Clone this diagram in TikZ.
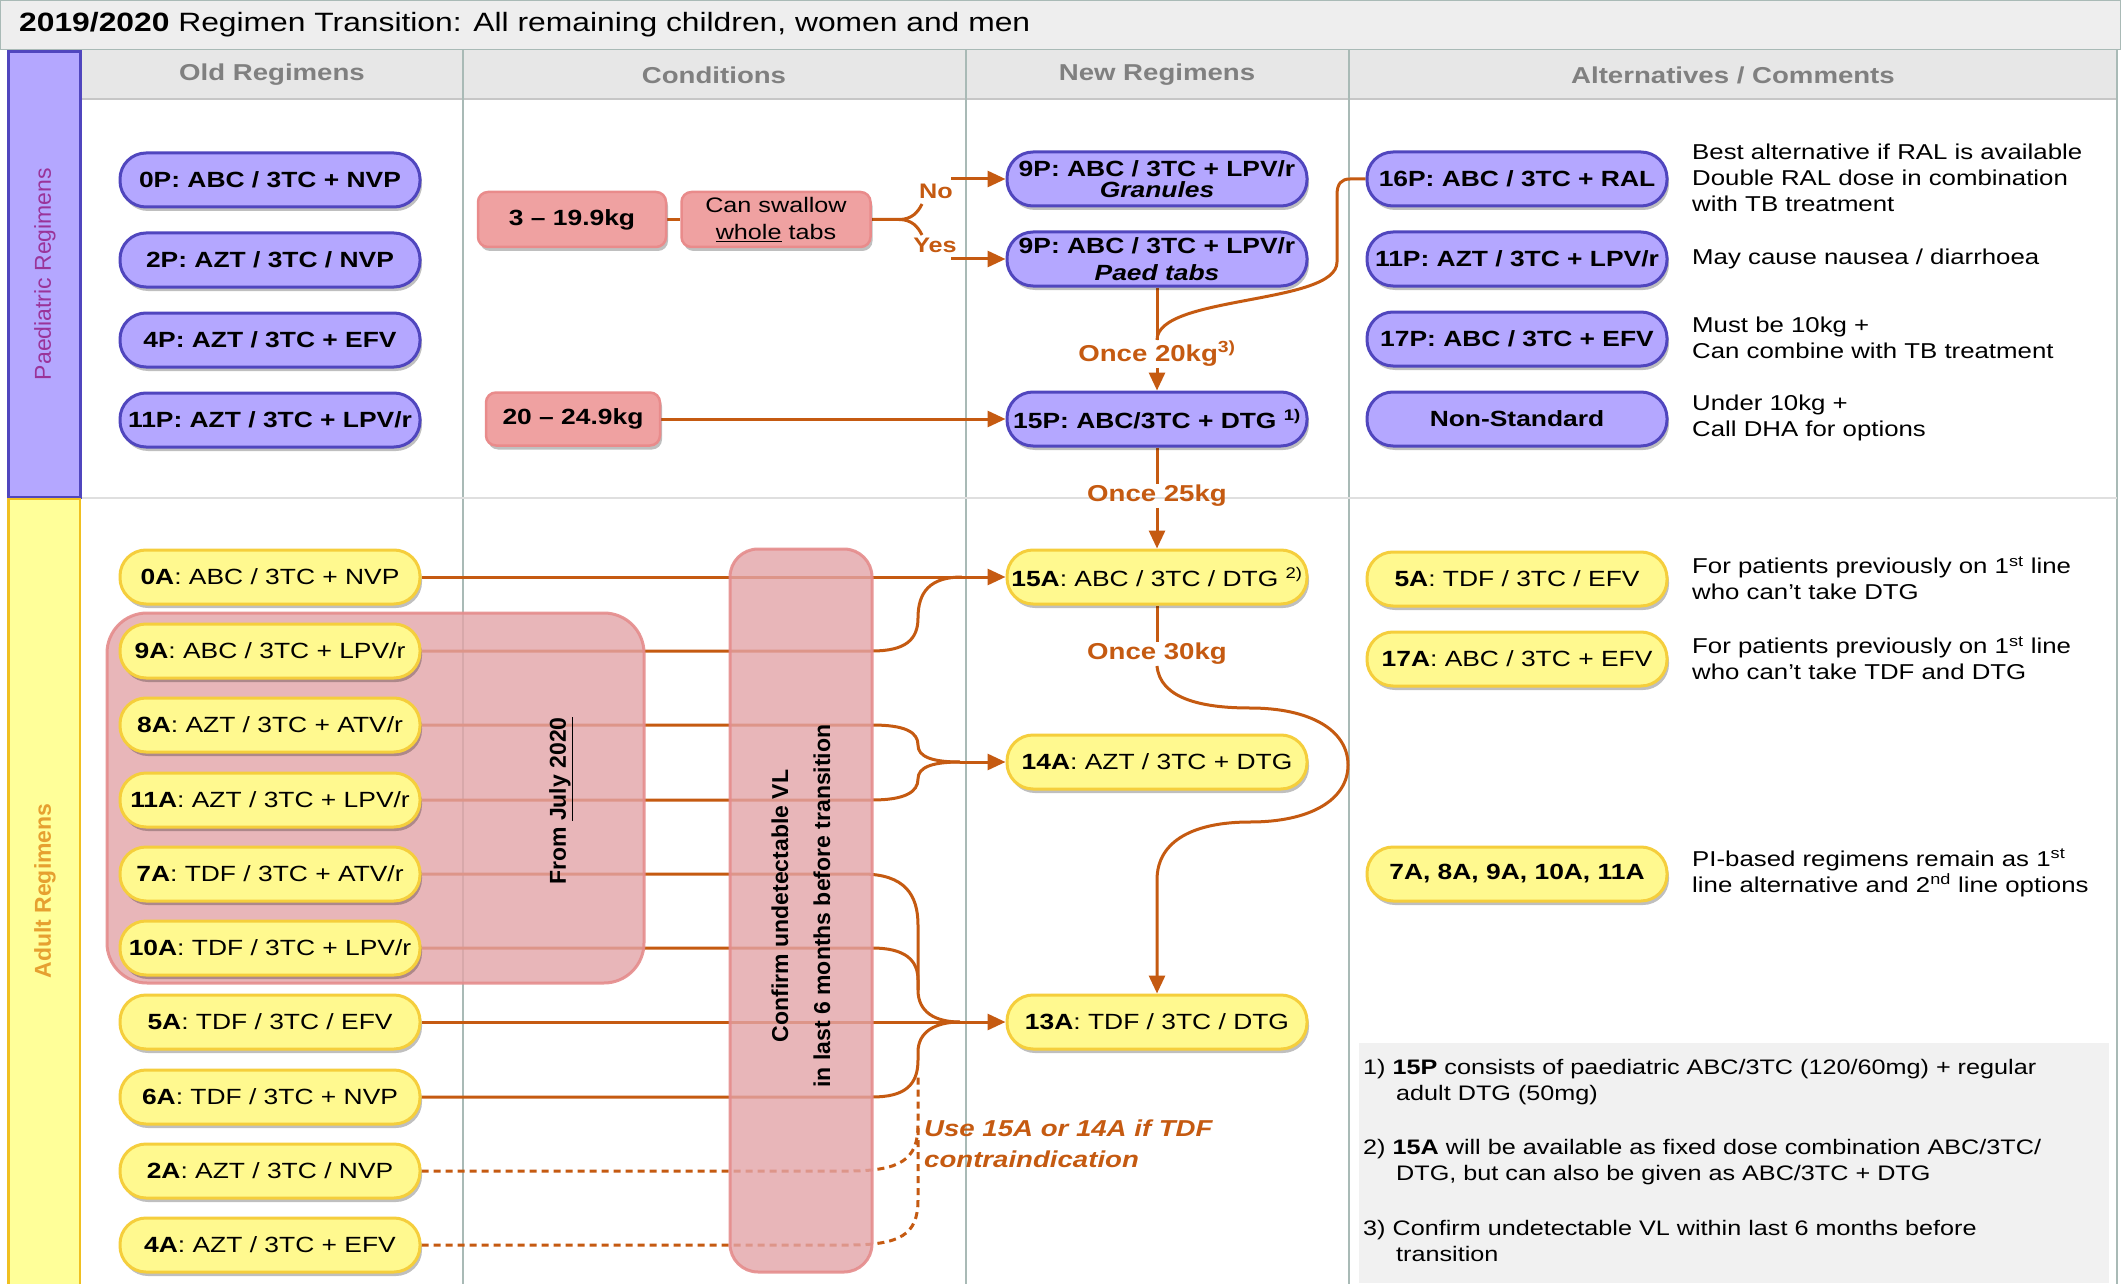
\documentclass[tikz,border=0pt]{standalone}
\usepackage{fontspec}
\setmainfont{Liberation Sans}[FakeStretch=1.2]
\newfontfamily\rotfont{Liberation Sans}
\usetikzlibrary{arrows.meta,shadows}
\definecolor{orng}{HTML}{C55A11}
\definecolor{pfill}{HTML}{B4A7FF}
\definecolor{pbord}{HTML}{5046BE}
\definecolor{yfill}{HTML}{FFF98F}
\definecolor{ybord}{HTML}{F5CE3C}
\definecolor{ybar}{HTML}{FFFF99}
\definecolor{ybarb}{HTML}{F0C020}
\definecolor{cfill}{HTML}{EFA1A1}
\definecolor{cbord}{HTML}{E98B8B}
\definecolor{ovfill}{HTML}{E3A4A8}
\definecolor{ovbord}{HTML}{E58C8C}
\definecolor{gridc}{HTML}{A9BAB6}
\definecolor{hdrtxt}{HTML}{808080}
\definecolor{hdrfill}{HTML}{E7E7E7}
\definecolor{ttlfill}{HTML}{EEEEEE}
\definecolor{pdtxt}{HTML}{9A3399}
\definecolor{adtxt}{HTML}{E6A030}
\definecolor{fnfill}{HTML}{F1F1F1}
\pgfdeclarelayer{bg}
\pgfdeclarelayer{cn}
\pgfdeclarelayer{ov}
\pgfsetlayers{bg,cn,ov,main}
\tikzset{
 shad/.style={drop shadow={shadow xshift=2pt,shadow yshift=-4pt,opacity=0.25,fill=black}},
 pill/.style={rounded corners=26pt, minimum width=300pt, minimum height=54pt, inner sep=0pt, line width=3pt, shad, align=center},
 ppill/.style={pill, draw=pbord, fill=pfill, font=\fontsize{22}{24}\selectfont\bfseries},
 ypill/.style={pill, draw=ybord, fill=yfill, font=\fontsize{22}{24}\selectfont},
 cond/.style={draw=cbord, fill=cfill, line width=2.5pt, rounded corners=10pt, minimum height=55pt, inner sep=0pt, shad, align=center},
 lbl/.style={text=orng, font=\fontsize{23}{25}\selectfont\bfseries, inner sep=1pt},
 cmt/.style={anchor=west, align=left, inner sep=0pt, font=\fontsize{21.5}{26}\selectfont},
 hdr/.style={text=hdrtxt, font=\fontsize{23}{25}\selectfont\bfseries},
 conn/.style={draw=orng, line width=3pt},
 arr/.style={conn, -{Triangle[length=18pt,width=16pt]}},
 dsh/.style={conn, dash pattern=on 7pt off 5pt},
 ovbox/.style={fill=ovfill, draw=ovbord, line width=3pt, fill opacity=0.8, draw opacity=0.9},
 vrot/.style={rotate=90, font=\rotfont\bfseries\fontsize{23}{25}\selectfont}
}
\begin{document}
\begin{tikzpicture}[x=1pt,y=-1pt]
\useasboundingbox (0,0) rectangle (2121,1284);
\begin{pgfonlayer}{bg}
\fill[white] (0,0) rectangle (2121,1284);
\fill[ttlfill] (0,0) rectangle (2121,50);
\draw[gridc, line width=1pt] (0.5,50) -- (0.5,0.5) -- (2120.5,0.5) -- (2120.5,50);
\fill[hdrfill] (81,50) rectangle (2117,99);
\draw[gray!45, line width=2pt] (81,99) -- (2117,99);
\draw[gridc, line width=1pt] (0,50) -- (2121,50);
\foreach \x in {463,966,1349,2117} \draw[gridc, line width=1.2pt] (\x,50) -- (\x,1284);
\draw[gray!25, line width=1.5pt] (81,498) -- (2117,498);
\fill[fnfill] (1359,1043) rectangle (2109,1283);
\filldraw[fill=pfill, draw=pbord, line width=3pt] (8.5,51.5) rectangle (80,497);
\filldraw[fill=ybar, draw=ybarb, line width=2.5pt] (8.5,499) rectangle (80,1290);
\end{pgfonlayer}

% title and headers
\node[anchor=west, font=\fontsize{26.5}{28}\selectfont, inner sep=0pt] (ttl) at (19,25) {\textbf{2019/2020} Regimen Transition: All remaining children, women and men};
\node[hdr] (h1) at (272,75) {Old Regimens};
\node[hdr] (h2) at (714,75) {Conditions};
\node[hdr] (h3) at (1157,75) {New Regimens};
\node[hdr] (h4) at (1733,75) {Alternatives / Comments};
\node[rotate=90, text=pdtxt, font=\rotfont\fontsize{23}{25}\selectfont] (sidep) at (45,274) {Paediatric Regimens};
\node[vrot, text=adtxt] (sidea) at (45,891) {Adult Regimens};

% paediatric old
\node[ppill] (p0) at (270,180) {0P: ABC / 3TC + NVP};
\node[ppill] (p2) at (270,260) {2P: AZT / 3TC / NVP};
\node[ppill] (p4) at (270,340) {4P: AZT / 3TC + EFV};
\node[ppill] (p11) at (270,420) {11P: AZT / 3TC + LPV/r};

% conditions
\node[cond, minimum width=188pt, font=\fontsize{22}{24}\selectfont\bfseries] (c1) at (572,219.5) {3 – 19.9kg};
\node[cond, minimum width=189pt, font=\fontsize{21}{27}\selectfont] (c2) at (776,219.5) {Can swallow\\\underline{whole} tabs};
\node[cond, minimum width=174pt, minimum height=53pt, font=\fontsize{22}{24}\selectfont\bfseries] (c3) at (573,419) {20 – 24.9kg};
\node[lbl, font=\fontsize{21}{23}\selectfont\bfseries] (lno) at (936,191) {No};
\node[lbl, font=\fontsize{21}{23}\selectfont\bfseries] (lyes) at (935,245) {Yes};
\coordinate (noS) at (951,179);
\coordinate (yesS) at (951,259);

% paediatric new
\node[ppill, font=\fontsize{22}{21}\selectfont\bfseries] (g9) at (1157,179) {9P: ABC / 3TC + LPV/r\\\textit{Granules}};
\node[ppill, font=\fontsize{22}{27}\selectfont\bfseries] (t9) at (1157,259) {9P: ABC / 3TC + LPV/r\\\textit{Paed tabs}};
\node[ppill] (p15) at (1157,419) {15P: ABC/3TC + DTG \textsuperscript{1)}};
\node[lbl] (o20) at (1157,354) {Once 20kg\textsuperscript{3)}};
\node[lbl] (o25) at (1157,496) {Once 25kg};

% paediatric alternatives
\node[ppill] (a16) at (1517,179) {16P: ABC / 3TC + RAL};
\node[ppill] (a11) at (1517,259) {11P: AZT / 3TC + LPV/r};
\node[ppill] (a17) at (1517,339) {17P: ABC / 3TC + EFV};
\node[ppill] (ans) at (1517,419) {Non-Standard};
\node[cmt] (cm1) at (1692,178) {Best alternative if RAL is available\\Double RAL dose in combination\\with TB treatment};
\node[cmt] (cm2) at (1692,259) {May cause nausea / diarrhoea};
\node[cmt] (cm3) at (1692,338) {Must be 10kg +\\Can combine with TB treatment};
\node[cmt] (cm4) at (1692,418) {Under 10kg +\\Call DHA for options};

% adult old
\node[ypill] (o0) at (270,577) {\textbf{0A}: ABC / 3TC + NVP};
\node[ypill] (o9) at (270,651) {\textbf{9A}: ABC / 3TC + LPV/r};
\node[ypill] (o8) at (270,725) {\textbf{8A}: AZT / 3TC + ATV/r};
\node[ypill] (o11) at (270,800) {\textbf{11A}: AZT / 3TC + LPV/r};
\node[ypill] (o7) at (270,874) {\textbf{7A}: TDF / 3TC + ATV/r};
\node[ypill] (o10) at (270,948) {\textbf{10A}: TDF / 3TC + LPV/r};
\node[ypill] (o5) at (270,1022) {\textbf{5A}: TDF / 3TC / EFV};
\node[ypill] (o6) at (270,1097) {\textbf{6A}: TDF / 3TC + NVP};
\node[ypill] (o2) at (270,1171) {\textbf{2A}: AZT / 3TC / NVP};
\node[ypill] (o4) at (270,1245) {\textbf{4A}: AZT / 3TC + EFV};

% adult new
\node[ypill] (a15) at (1157,577) {\textbf{15A}: ABC / 3TC / DTG \textsuperscript{2)}};
\node[ypill] (a14) at (1157,762) {\textbf{14A}: AZT / 3TC + DTG};
\node[ypill] (a13) at (1157,1022) {\textbf{13A}: TDF / 3TC / DTG};
\node[lbl] (o30) at (1157,654) {Once 30kg};
\coordinate (m14) at (960,762);
\coordinate (m13) at (960,1022);

% adult alternatives
\node[ypill] (b5) at (1517,579) {\textbf{5A}: TDF / 3TC / EFV};
\node[ypill] (b17) at (1517,659) {\textbf{17A}: ABC / 3TC + EFV};
\node[ypill, font=\fontsize{22}{24}\selectfont\bfseries] (bpi) at (1517,874) {7A, 8A, 9A, 10A, 11A};
\node[cmt] (cm5) at (1692,578) {For patients previously on 1\textsuperscript{st} line\\who can’t take DTG};
\node[cmt] (cm6) at (1692,658) {For patients previously on 1\textsuperscript{st} line\\who can’t take TDF and DTG};
\node[cmt] (cm7) at (1692,873) {PI-based regimens remain as 1\textsuperscript{st}\\line alternative and 2\textsuperscript{nd} line options};

% overlay texts
\node[vrot] (fj) at (561,801) {From \underline{July 2020}};
\node[vrot, align=center, font=\rotfont\bfseries\fontsize{23}{42}\selectfont] (cf) at (801,906) {Confirm undetectable VL\\in last 6 months before transition};
\node[anchor=west, align=left, text=orng, inner sep=0pt, font=\fontsize{23}{31}\selectfont\bfseries\itshape] (use) at (924,1144) {Use 15A or 14A if TDF\\contraindication};

% footnotes
\node[cmt, font=\fontsize{21}{26}\selectfont] (f1) at (1363,1082) {1) \textbf{15P} consists of paediatric ABC/3TC (120/60mg) + regular\\\hspace*{33pt}adult DTG (50mg)};
\node[cmt, font=\fontsize{21}{26}\selectfont] (f2) at (1363,1162) {2) \textbf{15A} will be available as fixed dose combination ABC/3TC/\\\hspace*{33pt}DTG, but can also be given as ABC/3TC + DTG};
\node[cmt, font=\fontsize{21}{26}\selectfont] (f3) at (1363,1241) {3) Confirm undetectable VL within last 6 months before\\\hspace*{33pt}transition};

% connectors
\begin{pgfonlayer}{cn}
\draw[conn] (c1.east) -- (c2.west);
\draw[conn] (c2.east) -- (899,219.5) .. controls (912,219.5) and (918,212) .. (922,204);
\draw[conn] (899,219.5) .. controls (912,219.5) and (918,227) .. (922,235);
\draw[arr] (noS) -- (g9.west);
\draw[arr] (yesS) -- (t9.west);
\draw[arr] (c3.east) -- (p15.west);
\draw[conn] (t9.south) -- (o20.north);
\draw[conn] (a16.west) -- (1350,179) .. controls (1341,179) and (1337,184) .. (1337,195) -- (1337,262) .. controls (1337,305) and (1157,295) .. (o20.north);
\draw[arr] (o20.south) -- (p15.north);
\draw[conn] (p15.south) -- (o25.north);
\draw[arr] (o25.south) -- (a15.north);
\draw[conn] (a15.south) -- (o30.north);
\draw[arr] (o30.south) .. controls (1160,698) and (1200,708) .. (1250,708) .. controls (1310,708) and (1348,730) .. (1348,765) .. controls (1348,800) and (1310,822) .. (1250,822) .. controls (1195,822) and (1157,840) .. (1157,880) -- (a13.north);
% adult
\draw[arr] (o0.east) -- (a15.west);
\draw[conn] (o9.east) -- (872,651) .. controls (905,651) and (918,640) .. (918,618) .. controls (918,592) and (930,577) .. (962,577);
\draw[conn] (o8.east) -- (872,725) .. controls (905,725) and (918,732) .. (918,745) .. controls (918,756) and (930,762) .. (m14);
\draw[conn] (o11.east) -- (872,800) .. controls (905,800) and (918,792) .. (918,779) .. controls (918,768) and (930,762) .. (m14);
\draw[arr] (m14) -- (a14.west);
\draw[conn] (o7.east) -- (862,874) .. controls (905,874) and (918,895) .. (918,925) -- (918,990) .. controls (918,1012) and (935,1022) .. (m13);
\draw[conn] (o10.east) -- (872,948) .. controls (905,948) and (918,960) .. (918,980) -- (918,990);
\draw[arr] (o5.east) -- (a13.west);
\draw[conn] (o6.east) -- (872,1097) .. controls (905,1097) and (918,1085) .. (918,1060) -- (918,1052) .. controls (918,1032) and (935,1022) .. (m13);
\draw[dsh] (o2.east) -- (848,1171) .. controls (900,1171) and (918,1160) .. (918,1125) -- (918,1075);
\draw[dsh] (o4.east) -- (848,1245) .. controls (900,1245) and (918,1235) .. (918,1200) -- (918,1125);
\end{pgfonlayer}

\begin{pgfonlayer}{ov}
\draw[ovbox, rounded corners=40pt] (107,613) rectangle (644,983);
\draw[ovbox, rounded corners=28pt] (730,549) rectangle (872,1272);
\end{pgfonlayer}
\end{tikzpicture}
\end{document}
